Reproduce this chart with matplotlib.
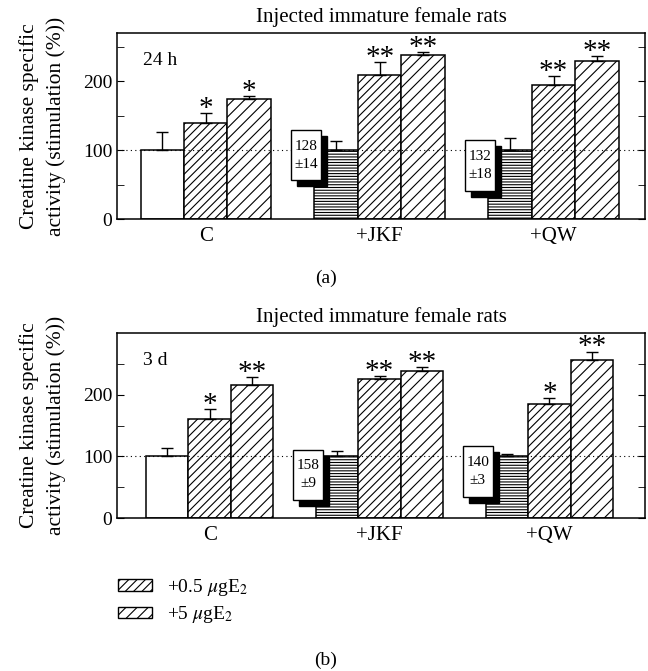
import numpy as np
import matplotlib
matplotlib.use('Agg')
import matplotlib.pyplot as plt
from matplotlib.patches import Rectangle, Patch
from matplotlib.transforms import ScaledTranslation

plt.rcParams['font.family'] = ['Liberation Serif', 'DejaVu Serif']
plt.rcParams['mathtext.fontset'] = 'stix'
plt.rcParams['hatch.linewidth'] = 0.8

# groups and data
groups = ['C', '+JKF', '+QW']
title = 'Injected immature female rats'

# panel (a): 24 h
a_base = [100, 100, 100]
a_base_err = [26, 13, 18]
a_low = [140, 209, 194]
a_low_err = [14, 19, 13]
a_high = [174, 238, 229]
a_high_err = [4, 4, 7]
a_low_sig = ['*', '**', '**']
a_high_sig = ['*', '**', '**']
a_inset = ['128\n±14', '132\n±18']

# panel (b): 3 d
b_base = [100, 100, 100]
b_base_err = [13, 9, 3]
b_low = [161, 226, 185]
b_low_err = [16, 4, 10]
b_high = [216, 239, 257]
b_high_err = [13, 6, 13]
b_low_sig = ['*', '**', '*']
b_high_sig = ['**', '**', '**']
b_inset = ['158\n±9', '140\n±3']

legend_labels = ['+0.5 $\\mu$gE$_2$', '+5 $\\mu$gE$_2$']

fig = plt.figure(figsize=(6.48, 6.71), dpi=100)


def draw_panel(ax, base, base_err, low, low_err, high, high_err,
               low_sig, high_sig, insets, inset_y, tag, ymax, xlim):
    centers = np.array([2.0, 6.0, 10.0])
    xb, xl, xh = centers - 1, centers, centers + 1

    # control bar white, treated base bars horizontal hatch
    ax.bar(xb[0], base[0], width=1, color='white', edgecolor='black', lw=1.1, zorder=2)
    ax.bar(xb[1:], base[1:], width=1, color='white', edgecolor='black', lw=1.1,
           hatch='------', zorder=2)
    ax.bar(xl, low, width=1, color='white', edgecolor='black', lw=1.1,
           hatch='////', zorder=2)
    ax.bar(xh, high, width=1, color='white', edgecolor='black', lw=1.1,
           hatch='///', zorder=2)

    for x, v, e in [(xb, base, base_err), (xl, low, low_err), (xh, high, high_err)]:
        ax.errorbar(x, v, yerr=[np.zeros(3), e], fmt='none', ecolor='black',
                    elinewidth=1, capsize=4, capthick=1, zorder=3)

    for x, v, e, s in [(xl, low, low_err, low_sig), (xh, high, high_err, high_sig)]:
        for xi, vi, ei, si in zip(x, v, e, s):
            ax.annotate(si, (xi, vi + ei), xytext=(0, -2), textcoords='offset points',
                        ha='center', va='baseline', fontsize=21, zorder=6)

    ax.axhline(100, color='black', lw=0.8, ls=(0, (1, 3)), zorder=3.5)

    # small boxes with shadow next to treated base bars
    shadow = ax.transData + ScaledTranslation(6 / 100, -6 / 100, fig.dpi_scale_trans)
    for g, txt, (y0, y1) in zip([1, 2], insets, inset_y):
        x0 = xb[g] - 1.03
        ax.add_patch(Rectangle((x0, y0), 0.69, y1 - y0, facecolor='black',
                               edgecolor='black', transform=shadow, zorder=4))
        ax.add_patch(Rectangle((x0, y0), 0.69, y1 - y0, facecolor='white',
                               edgecolor='black', lw=1, zorder=5))
        ax.text(x0 + 0.345, (y0 + y1) / 2, txt, ha='center', va='center',
                fontsize=11, linespacing=1.5, zorder=6)

    ax.text(0.05, 0.85, tag, transform=ax.transAxes, fontsize=14, va='center')
    ax.set_xlim(*xlim)
    ax.set_ylim(0, ymax)
    ax.set_xticks(centers)
    ax.set_xticklabels(groups, fontsize=15)
    ax.tick_params(axis='x', length=0, pad=6)
    ax.set_yticks([0, 100, 200])
    ax.set_yticks(np.arange(50, ymax, 100), minor=True)
    ax.tick_params(axis='y', which='both', direction='in', right=True,
                   length=5, labelsize=14)
    ax.set_title(title, fontsize=15, pad=8)
    ax.set_ylabel('Creatine kinase specific\nactivity (stimulation (%))',
                  fontsize=15.5, labelpad=12, linespacing=1.5)
    for sp in ax.spines.values():
        sp.set_linewidth(1.1)


ax1 = fig.add_axes([0.1806, 0.6736, 0.8148, 0.2772])
draw_panel(ax1, a_base, a_base_err, a_low, a_low_err, a_high, a_high_err,
           a_low_sig, a_high_sig, a_inset, [(56, 129), (41, 115)], '24 h', 270,
           (-0.04, 12.1))

ax2 = fig.add_axes([0.1806, 0.228, 0.8148, 0.2757])
draw_panel(ax2, b_base, b_base_err, b_low, b_low_err, b_high, b_high_err,
           b_low_sig, b_high_sig, b_inset, [(30, 111), (34, 116)], '3 d', 300,
           (-0.18, 12.25))

fig.text(0.503, 1 - 278 / 671, '(a)', ha='center', va='center', fontsize=14)
fig.text(0.503, 1 - 660 / 671, '(b)', ha='center', va='center', fontsize=14)

handles = [Patch(facecolor='white', edgecolor='black', hatch='////'),
           Patch(facecolor='white', edgecolor='black', hatch='///')]
fig.legend(handles, legend_labels, loc='center left',
           bbox_to_anchor=(100 / 648, 1 - 601 / 671), frameon=False,
           fontsize=14, handlelength=1.75, handleheight=0.55,
           handletextpad=0.8, labelspacing=0.35)

fig.savefig('out.png', dpi=100)
